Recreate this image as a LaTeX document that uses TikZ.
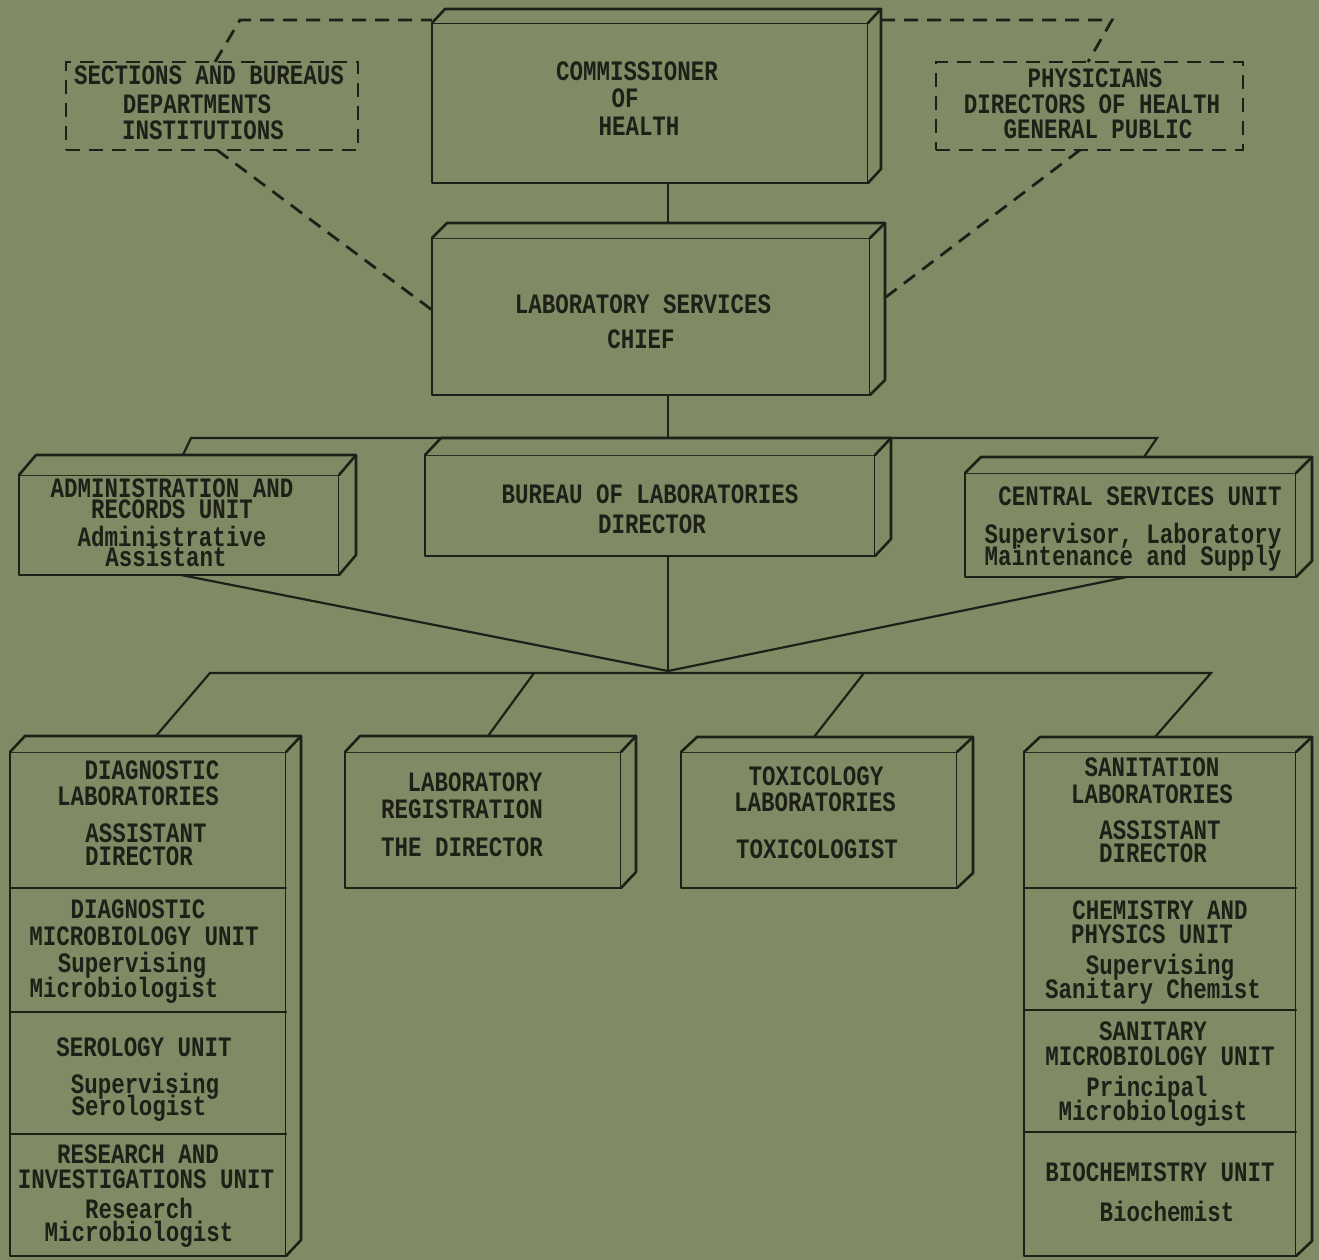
\documentclass[tikz,border=0pt]{standalone}
\usepackage{fontspec}
\newfontfamily\tw{Liberation Mono}[FakeStretch=0.8]
\usetikzlibrary{calc}
\definecolor{paper}{RGB}{127,139,101}
\definecolor{ink}{RGB}{30,32,24}
\tikzset{
  edge/.style={draw=ink, line width=2.6pt, line join=round, line cap=round},
  front/.style={edge, fill=paper, rectangle, inner sep=0pt, outer sep=0pt},
  conn/.style={draw=ink, line width=2.2pt, line cap=round},
  dashline/.style={draw=ink, line width=2.8pt, dash pattern=on 14pt off 9pt},
  dashbox/.style={dashline, rectangle, inner sep=0pt, outer sep=0pt},
  tl/.style={font=\tw\bfseries\fontsize{28.1}{28.1}\selectfont, inner sep=0pt, anchor=base, text=ink},
}
% 3D box: name, x1, y1, x2, y2, depth dx, depth dy
\newcommand\cube[7]{%
  \node[front, minimum width={#4-#2}, minimum height={#5-#3}] (#1) at ({(#2+#4)/2},{(#3+#5)/2}) {};
  \coordinate (#1-bt) at ($(#1.north west)+(#6,-#7)$);
  \coordinate (#1-br) at ($(#1.north east)+(#6,-#7)$);
  \coordinate (#1-bb) at ($(#1.south east)+(#6,-#7)$);
  \fill[paper] (#1.north west) -- (#1-bt) -- (#1-br) -- (#1-bb) -- (#1.south east) -- (#1.north east) -- cycle;
  \draw[edge] (#1.north west) -- (#1-bt) -- (#1-br) -- (#1-bb) -- (#1.south east);
  \draw[edge] (#1-br) -- (#1.north east);
}
\newcommand\T[4]{\node[tl] (#1) at (#2,{#3+8}) {#4};}
\begin{document}
\begin{tikzpicture}[x=1pt,y=-1pt]
\fill[paper] (0,0) rectangle (1319,1260);
\useasboundingbox (0,0) rectangle (1319,1260);

% ---------- junction coordinates ----------
\coordinate (spine) at (668,0);
\coordinate (dl1) at (215,62);
\coordinate (dl2) at (240,20);
\coordinate (dl3) at (432,20);
\coordinate (dr1) at (881,20);
\coordinate (dr2) at (1112,20);
\coordinate (dr3) at (1088,62);
\coordinate (dl4) at (217,150);
\coordinate (dl5) at (432,310);
\coordinate (dr4) at (1080,150);
\coordinate (dr5) at (886,297);
\coordinate (ubL) at (191,438);
\coordinate (ubLf) at (183,455);
\coordinate (ubR) at (1157,438);
\coordinate (ubRf) at (1144,457);
\coordinate (fan) at (668,671);
\coordinate (admB) at (181,575);
\coordinate (csB) at (1127,577);
\coordinate (lb1) at (210,673);
\coordinate (lb1f) at (156,736);
\coordinate (lb2) at (534,673);
\coordinate (lb2f) at (488,736);
\coordinate (lb3) at (864,673);
\coordinate (lb3f) at (814,737);
\coordinate (lb4) at (1211,673);
\coordinate (lb4f) at (1155,737);

% ---------- dashed boxes ----------
\node[dashbox, minimum width=292, minimum height=88] (secs) at (212,106) {};
\node[dashbox, minimum width=307, minimum height=88] (phys) at (1089.5,106) {};

% ---------- connectors (behind boxes) ----------
\draw[dashline] (dl1) -- (dl2) -- (dl3);
\draw[dashline] (dr1) -- (dr2) -- (dr3);
\draw[dashline] (dl4) -- (dl5);
\draw[dashline] (dr4) -- (dr5);
\draw[conn] (668,183) -- (668,223);
\draw[conn] (668,395) -- (ubL -| spine);
\draw[conn] (ubLf) -- (ubL) -- (ubR) -- (ubRf);
\draw[conn] (admB) -- (fan) -- (csB);
\draw[conn] (668,556) -- (lb1 -| spine);
\draw[conn] (lb1f) -- (lb1) -- (lb4) -- (lb4f);
\draw[conn] (lb2) -- (lb2f);
\draw[conn] (lb3) -- (lb3f);

% ---------- boxes ----------
\cube{comm}{432}{23}{868}{183}{13}{14}
\cube{lab}{432}{238}{870}{395}{15}{15}
\cube{adm}{19}{475}{339}{575}{17}{20}
\cube{bur}{425}{455}{875}{556}{16}{17}
\cube{cs}{965}{473}{1296}{577}{16}{16}
\cube{diag}{10}{752}{286}{1256}{15}{16}
\cube{reg}{345}{752}{621}{888}{15}{16}
\cube{tox}{681}{752}{957}{888}{16}{15}
\cube{san}{1024}{752}{1296}{1256}{16}{15}
\draw[edge] (diag.west |- spine) ++(0,888) -- ++(276,0);
\draw[edge] (diag.west |- spine) ++(0,1012) -- ++(276,0);
\draw[edge] (diag.west |- spine) ++(0,1134) -- ++(276,0);
\draw[edge] (san.west |- spine) ++(0,888) -- ++(272,0);
\draw[edge] (san.west |- spine) ++(0,1010) -- ++(272,0);
\draw[edge] (san.west |- spine) ++(0,1132) -- ++(272,0);

% ---------- texts ----------
\T{t1}{637}{73}{COMMISSIONER}
\T{t2}{625}{100}{OF}
\T{t3}{639}{128}{HEALTH}
\T{t4}{643}{305}{LABORATORY SERVICES}
\T{t5}{641}{340}{CHIEF}
\T{t6}{209}{77}{SECTIONS AND BUREAUS}
\T{t7}{197}{106}{DEPARTMENTS}
\T{t8}{203}{132}{INSTITUTIONS}
\T{t9}{1095}{80}{PHYSICIANS}
\T{t10}{1092}{106}{DIRECTORS OF HEALTH}
\T{t11}{1098}{131}{GENERAL PUBLIC}
\T{t12}{650}{495}{BUREAU OF LABORATORIES}
\T{t13}{652}{525}{DIRECTOR}
\T{t14}{172}{489}{ADMINISTRATION AND}
\T{t15}{172}{510}{RECORDS UNIT}
\T{t16}{172}{538}{Administrative}
\T{t17}{166}{558}{Assistant}
\T{t18}{1140}{497}{CENTRAL SERVICES UNIT}
\T{t19}{1133}{535}{Supervisor, Laboratory}
\T{t20}{1133}{557}{Maintenance and Supply}
\T{t21}{152}{771}{DIAGNOSTIC}
\T{t22}{138}{797}{LABORATORIES}
\T{t23}{146}{834}{ASSISTANT}
\T{t24}{139}{857}{DIRECTOR}
\T{t25}{138}{910}{DIAGNOSTIC}
\T{t26}{144}{937}{MICROBIOLOGY UNIT}
\T{t27}{132}{964}{Supervising}
\T{t28}{124}{989}{Microbiologist}
\T{t29}{144}{1048}{SEROLOGY UNIT}
\T{t30}{145}{1085}{Supervising}
\T{t31}{139}{1107}{Serologist}
\T{t32}{138}{1155}{RESEARCH AND}
\T{t33}{146}{1180}{INVESTIGATIONS UNIT}
\T{t34}{139}{1210}{Research}
\T{t35}{139}{1233}{Microbiologist}
\T{t36}{475}{783}{LABORATORY}
\T{t37}{462}{810}{REGISTRATION}
\T{t38}{462}{848}{THE DIRECTOR}
\T{t39}{816}{777}{TOXICOLOGY}
\T{t40}{815}{803}{LABORATORIES}
\T{t41}{817}{850}{TOXICOLOGIST}
\T{t42}{1152}{768}{SANITATION}
\T{t43}{1152}{795}{LABORATORIES}
\T{t44}{1160}{831}{ASSISTANT}
\T{t45}{1153}{854}{DIRECTOR}
\T{t46}{1160}{911}{CHEMISTRY AND}
\T{t47}{1152}{935}{PHYSICS UNIT}
\T{t48}{1160}{966}{Supervising}
\T{t49}{1153}{990}{Sanitary Chemist}
\T{t50}{1153}{1032}{SANITARY}
\T{t51}{1160}{1057}{MICROBIOLOGY UNIT}
\T{t52}{1147}{1088}{Principal}
\T{t53}{1153}{1112}{Microbiologist}
\T{t54}{1160}{1173}{BIOCHEMISTRY UNIT}
\T{t55}{1167}{1213}{Biochemist}
\end{tikzpicture}
\end{document}
